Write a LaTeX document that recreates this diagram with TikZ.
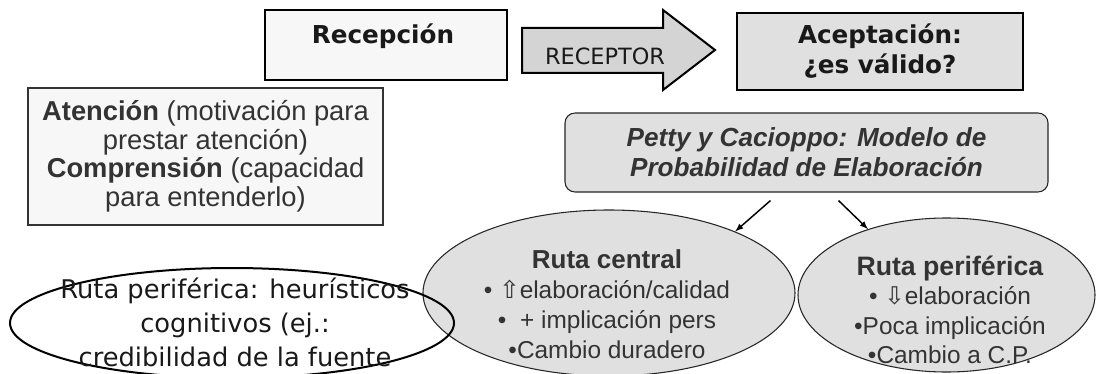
\documentclass[tikz,border=0pt]{standalone}
\usepackage{fontspec}
\setmainfont{Liberation Sans}
\newfontfamily\comicfont{DejaVu Sans}
\usetikzlibrary{calc,shapes.geometric}
\definecolor{boxwhite}{HTML}{F7F7F7}
\definecolor{boxgray}{HTML}{E0E0E0}
\definecolor{arrowgray}{HTML}{D4D4D4}
\definecolor{txtgray}{HTML}{333333}
\tikzset{
  stagebox/.style={draw=black,line width=1.5pt,inner sep=0pt},
  arialtxt/.style={text=txtgray,align=center,inner sep=0pt},
  comictxt/.style={text=black!90,align=center,inner sep=0pt},
  route/.style={ellipse,draw=black!85,fill=boxgray,line width=0.8pt,inner sep=0pt},
}

\begin{document}
\begin{tikzpicture}[x=0.75pt,y=-0.75pt]
\useasboundingbox (0,0) rectangle (1096,374);

\node[stagebox,fill=boxwhite,minimum width=181.5pt,minimum height=52.5pt] (recep) at (386,45) {};
\node[comictxt,font={\comicfont\bfseries\fontsize{18.5pt}{22pt}\selectfont}] (receptxt) at (383,36) {Recepción};

\draw[line width=1.5pt,fill=arrowgray] (522,28) -- (663,28) -- (663,10) -- (715,50) -- (663,90) -- (663,73) -- (522,73) -- cycle;
\node[comictxt,font={\comicfont\fontsize{16.8pt}{20pt}\selectfont}] (receptor) at (605,56) {RECEPTOR};

\node[stagebox,fill=boxgray,minimum width=214.5pt,minimum height=57.75pt,comictxt,
  font={\comicfont\bfseries\fontsize{18.5pt}{22.5pt}\selectfont}] (acept) at (880,51.5) {Aceptación:\\¿es válido?};

\node[draw=txtgray,line width=1.1pt,fill=boxwhite,minimum width=266.25pt,minimum height=102.75pt,arialtxt,
  font={\fontsize{20.5pt}{21.4pt}\selectfont}] (atencion) at (205.5,156.5)
  {\textbf{Atención} (motivación para\\prestar atención)\\\textbf{Comprensión} (capacidad\\para entenderlo)};

\node[draw=black!85,line width=0.8pt,fill=boxgray,rounded corners=7.5pt,minimum width=362.25pt,minimum height=59.25pt,arialtxt,
  font={\bfseries\itshape\fontsize{19.6pt}{22.5pt}\selectfont}] (petty) at (806.5,152.5)
  {Petty y Cacioppo: Modelo de\\Probabilidad de Elaboración};

\node[route,minimum width=279pt,minimum height=124.5pt] (central) at (609,293) {};
\node[route,minimum width=222.75pt,minimum height=115.5pt] (perif) at (946.5,295) {};
\node[ellipse,draw=black,line width=1.5pt,minimum width=333pt,minimum height=82.5pt,inner sep=0pt] (heur) at (232,323) {};

\node[arialtxt,font={\fontsize{18.3pt}{22.5pt}\selectfont}] (centraltxt) at (607,304)
  {{\fontsize{19.5pt}{22.5pt}\selectfont\textbf{Ruta central}}\\• {\comicfont ⇧}elaboración/calidad\\•~ + implicación pers\\•Cambio duradero};
\node[arialtxt,font={\fontsize{18.3pt}{22pt}\selectfont}] (periftxt) at (950,310)
  {{\fontsize{20pt}{22pt}\selectfont\textbf{Ruta periférica}}\\• {\comicfont ⇩}elaboración\\•Poca implicación\\•Cambio a C.P.};
\node[comictxt,font={\comicfont\fontsize{19.3pt}{25.5pt}\selectfont}] (heurtxt) at (235,322)
  {Ruta periférica: heurísticos\\cognitivos (ej.:\\credibilidad de la fuente};

\draw[-latex,line width=1.1pt] ($(petty.south)+(-36,8)$) -- (central.26);
\draw[-latex,line width=1.1pt] ($(petty.south)+(32,8)$) -- (perif.140);
\end{tikzpicture}
\end{document}
